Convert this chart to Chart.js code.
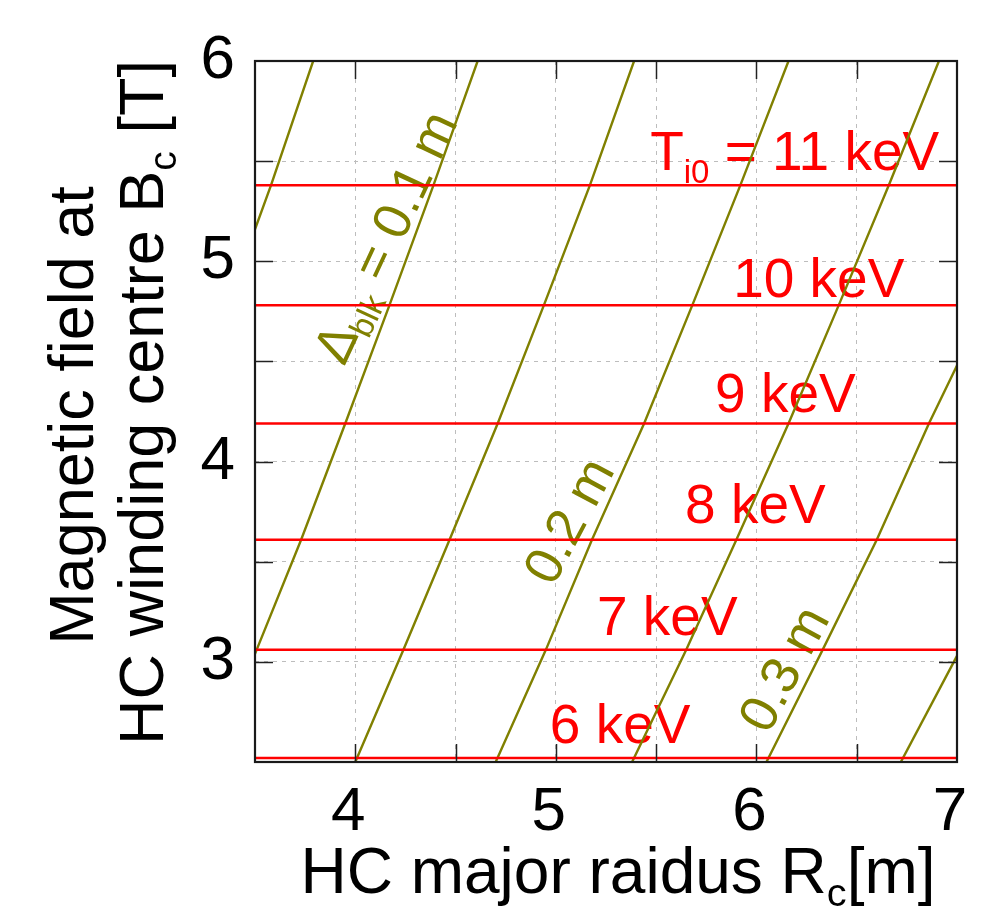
<!DOCTYPE html>
<html><head><meta charset="utf-8">
<script src="https://cdn.jsdelivr.net/npm/chart.js@4/dist/chart.umd.min.js"></script>
<style>html,body{margin:0;padding:0;background:#fff}canvas{display:block}</style>
</head><body>
<canvas id="c" width="997" height="910"></canvas>
<script>
// ---- data ----
const xTickLabels = ['4', '5', '6', '7'];
const yTickLabels = ['3', '4', '5', '6'];

// Ion temperature contours (keV) and field level (T)
const ti0Levels = [6, 7, 8, 9, 10, 11];
const ti0Field  = [2.52, 3.06, 3.61, 4.19, 4.78, 5.38];

// Blanket thickness contours Δblk (m): major radius R and field B along each line
const blk005R = [3.50, 3.58, 3.79];
const blk005B = [5.16, 5.38, 6.00];
const blk010R = [3.50, 3.73, 3.95, 4.17, 4.39, 4.61];
const blk010B = [3.04, 3.61, 4.19, 4.78, 5.38, 6.00];
const blk015R = [4.00, 4.24, 4.47, 4.71, 4.94, 5.17, 5.39];
const blk015B = [2.50, 3.06, 3.61, 4.19, 4.78, 5.38, 6.00];
const blk020R = [4.70, 4.95, 5.18, 5.44, 5.68, 5.92, 6.16];
const blk020B = [2.50, 3.06, 3.61, 4.19, 4.78, 5.38, 6.00];
const blk025R = [5.38, 5.65, 5.90, 6.16, 6.41, 6.66, 6.91];
const blk025B = [2.50, 3.06, 3.61, 4.19, 4.78, 5.38, 6.00];
const blk030R = [6.05, 6.33, 6.60, 6.86, 7.00];
const blk030B = [2.50, 3.06, 3.61, 4.19, 4.48];
const blk035R = [6.72, 7.00];
const blk035B = [2.50, 3.03];

// ---- styling / layout ----
const FAMILY = '"Liberation Sans", Arial, sans-serif';
const RED = '#ff0000';
const OLIVE = '#808000';

const blkLines = [
  [blk005R, blk005B], [blk010R, blk010B], [blk015R, blk015B], [blk020R, blk020B],
  [blk025R, blk025B], [blk030R, blk030B], [blk035R, blk035B]
];

const datasets = [];
ti0Levels.forEach((lv, i) => {
  datasets.push({
    label: 'Ti0 = ' + lv + ' keV',
    data: [{x: 3.5, y: ti0Field[i]}, {x: 7, y: ti0Field[i]}],
    showLine: true, borderColor: RED, borderWidth: 2.5, pointRadius: 0, fill: false
  });
});
blkLines.forEach(([R, B], i) => {
  datasets.push({
    label: 'blk' + i,
    data: R.map((r, k) => ({x: r, y: B[k]})),
    showLine: true, borderColor: OLIVE, borderWidth: 2.4, pointRadius: 0, fill: false
  });
});

// label annotations (anchor in data coordinates)
const redLabels = [
  {parts: [{t: 'T'}, {t: 'i0', sub: true}, {t: ' = 11 keV'}], r: 5.470, b: 5.4575},
  {parts: [{t: '10 keV'}], r: 5.884, b: 4.8225},
  {parts: [{t: '9 keV'}],  r: 5.794, b: 4.2475},
  {parts: [{t: '8 keV'}],  r: 5.644, b: 3.6925},
  {parts: [{t: '7 keV'}],  r: 5.205, b: 3.1325},
  {parts: [{t: '6 keV'}],  r: 4.970, b: 2.5925}
];
const oliveLabels = [
  {parts: [{t: 'Δ'}, {t: 'blk', sub: true}, {t: ' = 0.1 m'}], r: 4.146, b: 5.1225, ang: 65},
  {parts: [{t: '0.2 m'}], r: 5.060, b: 3.7075, ang: 62},
  {parts: [{t: '0.3 m'}], r: 6.133, b: 2.9675, ang: 62}
];

function drawRich(ctx, parts, x, y, size, align, color, subScale, subShift) {
  const subSize = size * (subScale || 0.62), shift = size * (subShift || 0.2);
  ctx.fillStyle = color; ctx.textBaseline = 'alphabetic'; ctx.textAlign = 'left';
  let w = 0;
  const ws = parts.map(p => { ctx.font = (p.sub ? subSize : size) + 'px ' + FAMILY; const m = ctx.measureText(p.t).width; w += m; return m; });
  let cx = align === 'center' ? x - w / 2 : align === 'right' ? x - w : x;
  parts.forEach((p, i) => {
    ctx.font = (p.sub ? subSize : size) + 'px ' + FAMILY;
    ctx.fillText(p.t, cx, y + (p.sub ? shift : 0));
    cx += ws[i];
  });
}

const labelPlugin = {
  id: 'labels',
  beforeDatasetsDraw(chart) {
    const {ctx, scales: {x, y}} = chart;
    ctx.save();
    redLabels.forEach(l => drawRich(ctx, l.parts, x.getPixelForValue(l.r), y.getPixelForValue(l.b), 55, 'left', RED, 0.6, 0.24));
    oliveLabels.forEach(l => {
      ctx.save();
      ctx.translate(x.getPixelForValue(l.r), y.getPixelForValue(l.b));
      ctx.rotate(-l.ang * Math.PI / 180);
      drawRich(ctx, l.parts, 0, 53 * 0.35, 53, 'center', OLIVE, 0.62, 0.2);
      ctx.restore();
    });
    ctx.restore();
  },
  afterDraw(chart) {
    const {ctx, chartArea: a, scales: {x, y}} = chart;
    ctx.save();
    // inward mirrored ticks
    ctx.strokeStyle = '#222'; ctx.lineWidth = 1.5;
    const seg = (x1, y1, x2, y2) => { ctx.beginPath(); ctx.moveTo(x1, y1); ctx.lineTo(x2, y2); ctx.stroke(); };
    x.ticks.forEach(t => {
      if (t.value <= x.min || t.value >= x.max) return;
      const px = Math.round(x.getPixelForValue(t.value)) + 0.5;
      seg(px, a.bottom, px, a.bottom - 18); seg(px, a.top, px, a.top + 18);
    });
    y.ticks.forEach(t => {
      if (t.value <= y.min || t.value >= y.max) return;
      const py = Math.round(y.getPixelForValue(t.value)) + 0.5;
      seg(a.left, py, a.left + 18, py); seg(a.right, py, a.right - 18, py);
    });
    // frame
    ctx.lineWidth = 2.2; ctx.strokeStyle = '#1a1a1a';
    ctx.strokeRect(a.left, a.top, a.right - a.left, a.bottom - a.top);
    // axis titles
    const cxp = (a.left + a.right) / 2, cyp = (a.top + a.bottom) / 2;
    drawRich(ctx, [{t: 'HC major raidus R'}, {t: 'c', sub: true}, {t: '[m]'}], cxp + 12, a.bottom + 131, 64, 'center', '#000', 0.62, 0.2);
    ctx.save();
    ctx.translate(a.left - 162, cyp + 4); ctx.rotate(-Math.PI / 2);
    drawRich(ctx, [{t: 'Magnetic field at'}], 0, 0, 63, 'center', '#000');
    ctx.restore();
    ctx.save();
    ctx.translate(a.left - 92, cyp - 9); ctx.rotate(-Math.PI / 2);
    drawRich(ctx, [{t: 'HC winding centre B'}, {t: 'c', sub: true}, {t: ' [T]'}], 0, 0, 63, 'center', '#000', 0.62, 0.2);
    ctx.restore();
    ctx.restore();
  }
};

const tickFont = {size: 62, family: FAMILY};
new Chart(document.getElementById('c'), {
  type: 'scatter',
  data: {datasets},
  options: {
    responsive: false, animation: false,
    layout: {padding: {top: 61, right: 40, left: 0, bottom: 0}},
    plugins: {legend: {display: false}, tooltip: {enabled: false}},
    scales: {
      x: {
        type: 'linear', min: 3.5, max: 7,
        afterFit(s) { s.height = 148; },
        ticks: {stepSize: 0.5, autoSkip: false, maxRotation: 0, padding: 14, labelOffset: -7, color: '#000', font: tickFont,
          callback: v => { const i = xTickLabels.indexOf(String(v)); return i >= 0 ? xTickLabels[i] : ''; }},
        grid: {color: '#bdbdbd', lineWidth: 1, drawTicks: false},
        border: {display: false, dash: [4, 5]}
      },
      y: {
        type: 'linear', min: 2.5, max: 6,
        afterFit(s) { s.width = 255; },
        ticks: {stepSize: 0.5, autoSkip: false, padding: 20, color: '#000', font: tickFont,
          callback: v => { const i = yTickLabels.indexOf(String(v)); return i >= 0 ? yTickLabels[i] : ''; }},
        grid: {color: '#bdbdbd', lineWidth: 1, drawTicks: false},
        border: {display: false, dash: [4, 5]}
      }
    }
  },
  plugins: [labelPlugin]
});
</script>
</body></html>
